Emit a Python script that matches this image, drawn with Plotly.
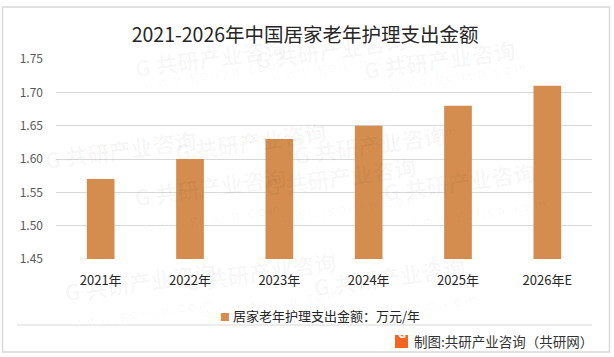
import plotly.graph_objects as go

W, H = 614, 357
L, R, T, B = 56, 22, 59, 98
PW, PH = W - L - R, H - T - B

categories = ["2021年", "2022年", "2023年", "2024年", "2025年", "2026年E"]
values = [1.57, 1.60, 1.63, 1.65, 1.68, 1.71]
y_ticks = [1.45, 1.50, 1.55, 1.60, 1.65, 1.70, 1.75]
series_name = "居家老年护理支出金额：万元/年"
title_text = "2021-2026年中国居家老年护理支出金额"
source_text = "制图:共研产业咨询（共研网）"

FONT = "Noto Sans CJK SC, Microsoft YaHei, sans-serif"
BAR = "#D48D4F"


def px(x):
    return (x - L) / PW


def py(y):
    return (H - B - y) / PH


fig = go.Figure()
fig.add_trace(go.Bar(x=categories, y=values, marker=dict(color=BAR, line=dict(width=0)),
                     width=0.31, showlegend=False, name=series_name))

shapes = [
    dict(type="rect", xref="paper", yref="paper", x0=px(2.5), x1=px(609.5), y0=py(352), y1=py(7),
         line=dict(color="#d9d9d9", width=1.5), fillcolor="rgba(0,0,0,0)", layer="below"),
    dict(type="line", xref="paper", yref="paper", x0=px(17), x1=px(592), y0=py(325), y1=py(325),
         line=dict(color="#d9d9d9", width=1)),
    dict(type="rect", xref="paper", yref="paper", x0=px(395), x1=px(408), y0=py(348), y1=py(335),
         line=dict(width=0), fillcolor="#F26522"),
]

annotations = []
wm_pos = [(130, 28), (330, 20), (520, 30), (40, 120), (250, 112), (450, 115),
          (130, 215), (340, 205), (540, 210), (60, 310), (260, 300), (470, 305)]
for (wx, wy) in wm_pos:
    annotations.append(dict(x=px(wx), y=py(wy), xref="paper", yref="paper", text="<b>G 共研产业咨询</b>",
                            showarrow=False, textangle=-8,
                            font=dict(family=FONT, size=22, color="rgba(0,0,0,0.035)")))
    annotations.append(dict(x=px(wx + 10), y=py(wy + 24), xref="paper", yref="paper",
                            text="w w w . g o n y n . c o m", showarrow=False, textangle=-8,
                            font=dict(family=FONT, size=13, color="rgba(0,0,0,0.035)")))
annotations.append(dict(x=px(218), y=py(315), xref="paper", yref="paper",
                        text=f"<span style='color:{BAR};font-size:10px'>■</span> {series_name}",
                        xanchor="left", yanchor="middle", showarrow=False,
                        font=dict(family=FONT, size=13, color="#262626")))
annotations.append(dict(x=px(401.5), y=py(341.5), xref="paper", yref="paper", text="<b>G</b>",
                        showarrow=False, font=dict(family="DejaVu Sans", size=10, color="white")))
annotations.append(dict(x=px(595), y=py(341), xref="paper", yref="paper", text=source_text,
                        xanchor="right", yanchor="middle", showarrow=False,
                        font=dict(family=FONT, size=13.5, color="#333333")))

fig.update_layout(
    width=W, height=H,
    margin=dict(l=L, r=R, t=T, b=B, autoexpand=False),
    paper_bgcolor="white", plot_bgcolor="white",
    showlegend=False,
    title=dict(text=title_text, x=0.497, xanchor="center", y=1 - 35 / H, yanchor="middle",
               font=dict(family=FONT, size=19.5, color="#262626")),
    font=dict(family=FONT),
    xaxis=dict(showgrid=False, showline=False, zeroline=False, ticks="",
               tickfont=dict(family=FONT, size=13, color="#262626"), ticklabelstandoff=12),
    yaxis=dict(range=[1.45, 1.75], tickvals=y_ticks, ticktext=[f"{v:.2f}" for v in y_ticks],
               showgrid=True, gridcolor="#d9d9d9", gridwidth=1, zeroline=False, showline=False,
               ticks="", tickfont=dict(family=FONT, size=12, color="#595959"), ticklabelstandoff=12),
    shapes=shapes,
    annotations=annotations,
)

fig.write_html("out.html", config={"displayModeBar": False},
               post_script="document.body.style.margin='0';")
